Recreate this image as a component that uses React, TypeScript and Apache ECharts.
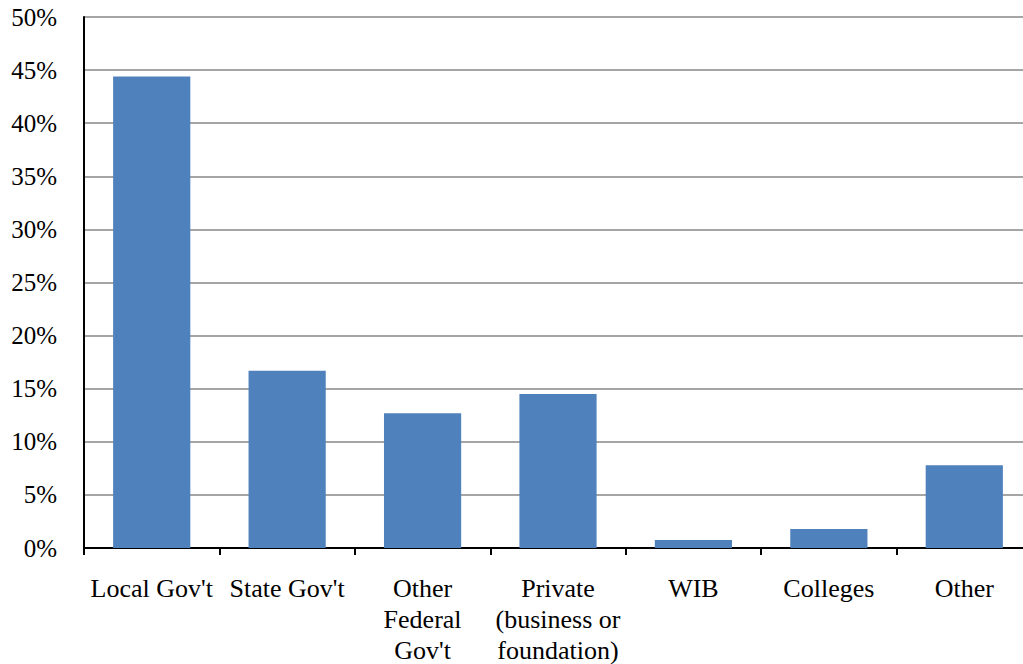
import React, { useEffect, useRef } from "react";
import * as echarts from "echarts";

const categories = [
  "Local Gov't",
  "State Gov't",
  "Other\nFederal\nGov't",
  "Private\n(business or\nfoundation)",
  "WIB",
  "Colleges",
  "Other",
];
const shares = [44.4, 16.7, 12.7, 14.5, 0.75, 1.8, 7.8];
const yTicks = [0, 5, 10, 15, 20, 25, 30, 35, 40, 45, 50];

export default function App() {
  const ref = useRef<HTMLDivElement>(null);
  useEffect(() => {
    document.body.style.margin = "0";
    const chart = echarts.init(ref.current!, null, { renderer: "svg" });
    const font = "'Liberation Serif', 'Times New Roman', serif";
    chart.setOption({
      animation: false,
      grid: {
        left: 84,
        right: -9,
        top: 17,
        bottom: 116,
        containLabel: false,
        outerBoundsMode: "none",
      },
      xAxis: {
        type: "category",
        data: categories,
        axisLine: { show: true, lineStyle: { color: "#000", width: 2 } },
        axisTick: { show: true, length: 7, lineStyle: { color: "#000", width: 2 } },
        axisLabel: {
          interval: 0,
          margin: 25,
          fontFamily: font,
          fontSize: 26,
          color: "#000",
          lineHeight: 31,
        },
      },
      yAxis: {
        type: "value",
        min: yTicks[0],
        max: yTicks[yTicks.length - 1],
        interval: 5,
        axisLine: { show: true, lineStyle: { color: "#000", width: 2 } },
        axisTick: { show: false },
        splitLine: { show: true, lineStyle: { color: "#878787", width: 1.5 } },
        axisLabel: {
          margin: 27,
          fontFamily: font,
          fontSize: 25,
          color: "#000",
          formatter: (v: number) => `${v}%`,
        },
      },
      series: [
        {
          type: "bar",
          data: shares,
          barCategoryGap: "43%",
          itemStyle: { color: "#4F81BD" },
        },
      ],
    });
    return () => chart.dispose();
  }, []);
  return <div ref={ref} style={{ width: 1023, height: 664 }} />;
}
